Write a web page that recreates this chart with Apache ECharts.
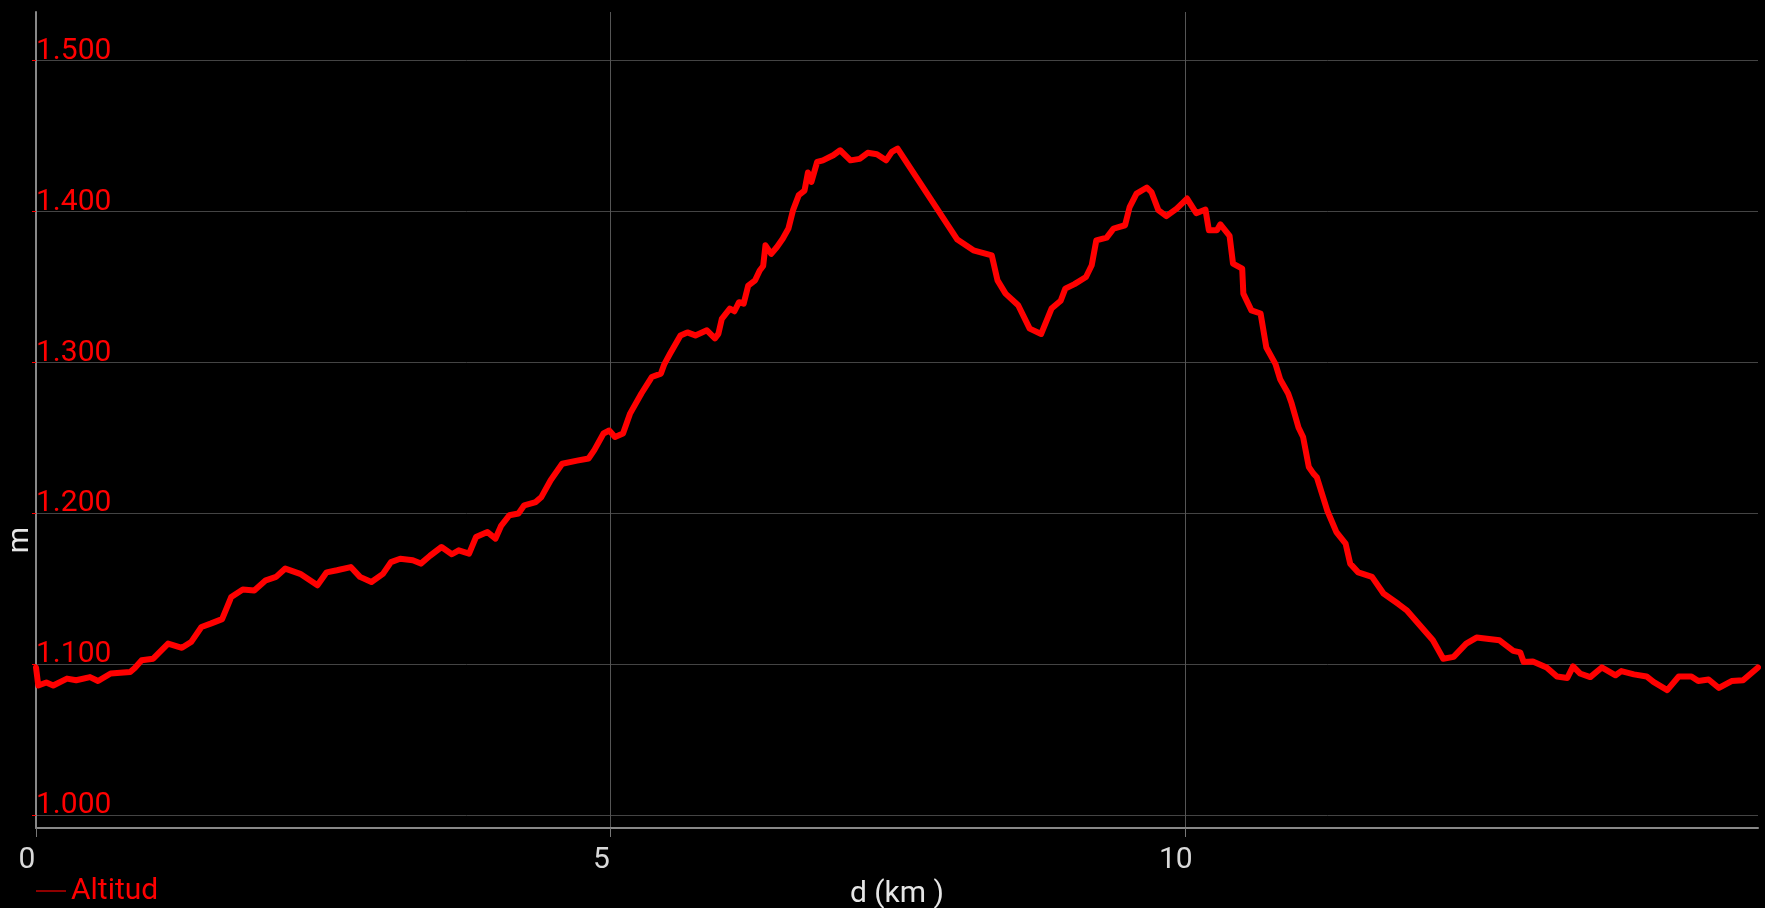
<!DOCTYPE html>
<html>
<head>
<meta charset="utf-8">
<script src="https://cdn.jsdelivr.net/npm/echarts@6/dist/echarts.min.js"></script>
<style>
html,body{margin:0;padding:0;background:#000;}
#c{width:1765px;height:908px;}
</style>
</head>
<body>
<div id="c"></div>
<script>
// distance (km)
const dist = [0.00,0.02,0.09,0.15,0.27,0.35,0.47,0.54,0.65,0.82,0.86,0.92,1.02,1.15,1.27,1.35,1.44,1.52,1.62,1.70,1.80,1.90,2.00,2.09,2.17,2.30,2.45,2.53,2.62,2.74,2.82,2.92,3.02,3.09,3.17,3.28,3.35,3.43,3.53,3.62,3.68,3.77,3.83,3.93,4.00,4.05,4.12,4.20,4.25,4.35,4.40,4.48,4.58,4.71,4.81,4.86,4.94,4.99,5.04,5.11,5.17,5.27,5.36,5.44,5.47,5.52,5.61,5.67,5.74,5.84,5.91,5.94,5.97,6.04,6.08,6.12,6.16,6.20,6.26,6.30,6.33,6.35,6.40,6.45,6.50,6.55,6.59,6.64,6.69,6.72,6.75,6.80,6.85,6.94,7.00,7.09,7.17,7.24,7.32,7.40,7.45,7.50,8.02,8.16,8.32,8.37,8.44,8.55,8.65,8.75,8.84,8.92,8.96,9.04,9.14,9.19,9.23,9.32,9.38,9.48,9.52,9.58,9.67,9.71,9.77,9.84,9.93,10.02,10.05,10.10,10.18,10.21,10.28,10.31,10.39,10.42,10.50,10.51,10.58,10.66,10.71,10.79,10.83,10.90,10.93,10.99,11.03,11.08,11.12,11.15,11.24,11.32,11.40,11.44,11.51,11.63,11.73,11.86,11.93,12.16,12.25,12.34,12.45,12.54,12.74,12.86,12.92,12.95,13.03,13.15,13.24,13.33,13.38,13.44,13.53,13.63,13.75,13.80,13.91,14.02,14.08,14.20,14.30,14.41,14.47,14.56,14.65,14.76,14.86,14.99];
// altitude (m)
const alt = [1098,1086,1088,1086,1090.6,1089.5,1091.6,1089,1094,1095,1097.6,1102.7,1103.8,1113.8,1111,1114.8,1124.8,1127,1130,1144.7,1149.6,1149,1155.7,1158,1163.5,1160,1152.4,1161,1162.4,1164.5,1158,1154.6,1160,1167.8,1170,1169,1166.8,1172,1177.8,1173,1175.6,1173.4,1184.4,1187.7,1183.4,1192,1198.8,1200,1205.4,1207.6,1211,1222,1233,1235,1236.4,1242,1253,1255,1250.7,1253,1266,1279.5,1290.4,1292.7,1299,1306,1318,1320,1318,1321.4,1316,1319,1329,1335.8,1334,1340,1339,1351,1354.5,1361,1364,1377.7,1372,1376.6,1382,1388.8,1401,1411,1414,1426,1419.7,1433,1434,1437.4,1440.7,1434,1435,1439,1438,1434,1439.6,1441.8,1381.5,1374.4,1371,1354.5,1345.7,1338,1322.5,1319,1335.8,1341,1349,1352,1356.7,1364.5,1381,1382.8,1388.8,1391,1403,1412,1416,1413,1401,1397,1402,1408.7,1405,1399,1401.4,1387.7,1387.7,1391.6,1384,1365.6,1362.3,1345.7,1334.6,1332.5,1310,1299,1289,1279.5,1273,1257,1250.7,1230.8,1226.4,1224,1202,1187.7,1180,1166.8,1161,1158,1147,1140,1136,1116,1103.8,1105,1113.8,1117.8,1116,1109,1108,1101.6,1102,1098,1092,1091,1098.7,1094,1091.6,1098,1092.8,1095.6,1093.4,1092,1088.4,1083,1092,1092,1089,1090,1084.4,1089,1089.5,1098];
// tick labels
const xTicks = [0, 5, 10];
const yTicks = [1000, 1100, 1200, 1300, 1400, 1500];

const chart = echarts.init(document.getElementById('c'), null, {renderer: 'canvas'});
const data = dist.map((d, i) => [d, alt[i]]);
const FONT = 'Roboto';

chart.setOption({
  backgroundColor: '#000000',
  animation: false,
  textStyle: {fontFamily: FONT},
  grid: {left: 36, right: 7, top: 12, bottom: 80, containLabel: false, outerBoundsMode: 'none'},
  legend: {
    left: 36, top: 876, padding: 0,
    itemWidth: 30, itemHeight: 2, itemGap: 10,
    icon: 'rect',
    data: [{name: 'Altitud', itemStyle: {color: '#8e0000'}}],
    textStyle: {color: '#ff0000', fontSize: 30, fontFamily: FONT, padding: [0, 0, 12, 0]}
  },
  graphic: [{
    type: 'text', x: 20, y: 540, rotation: Math.PI / 2,
    style: {text: 'm', fill: '#e6e6e6', fontSize: 30, fontFamily: FONT, align: 'center', verticalAlign: 'middle'}
  }],
  xAxis: {
    type: 'value', min: 0, max: 14.99, interval: 5,
    name: 'd (km )', nameLocation: 'middle', nameGap: 37,
    nameTextStyle: {color: '#e6e6e6', fontSize: 30, fontFamily: FONT, lineHeight: 30},
    axisLine: {show: true, onZero: false, lineStyle: {color: '#888888', width: 2}},
    axisTick: {show: true, length: 9, customValues: xTicks, lineStyle: {color: '#777777'}},
    axisLabel: {
      show: true, customValues: xTicks, margin: 17, color: '#d9d9d9', fontSize: 30, fontFamily: FONT,
      lineHeight: 30, padding: [0, 18, 0, 0],
      formatter: v => (xTicks.indexOf(v) >= 0 ? String(v) : '')
    },
    splitLine: {show: true, showMinLine: false, showMaxLine: true, lineStyle: {color: '#555555', width: 1}}
  },
  yAxis: {
    type: 'value', min: 991.6, max: 1532.3,
    axisLine: {show: true, lineStyle: {color: '#888888', width: 2}},
    axisTick: {show: true, length: 4, customValues: yTicks, lineStyle: {color: '#ff0000'}},
    axisLabel: {
      show: true, inside: true, customValues: yTicks, margin: 0, color: '#ff0000', fontSize: 30,
      fontFamily: FONT, align: 'left', verticalAlign: 'bottom', lineHeight: 19,
      formatter: v => (yTicks.indexOf(v) >= 0 ? (v / 1000).toFixed(3) : '')
    },
    splitLine: {show: true, showMinLine: true, showMaxLine: true, lineStyle: {color: '#444444', width: 1}}
  },
  series: [{
    name: 'Altitud', type: 'line', data: data,
    showSymbol: false, symbol: 'none', smooth: false,
    lineStyle: {color: '#ff0000', width: 6, join: 'round', cap: 'round'},
    itemStyle: {color: '#ff0000'},
    silent: true
  }]
});
</script>
</body>
</html>
